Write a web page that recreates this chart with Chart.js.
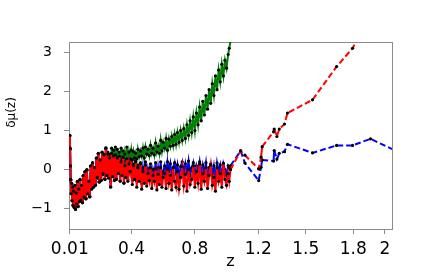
<!DOCTYPE html>
<html>
<head>
<meta charset="utf-8">
<style>
html,body{margin:0;padding:0;background:#ffffff;}
canvas{display:block;}
</style>
<script src="https://cdn.jsdelivr.net/npm/chart.js@4/dist/chart.umd.min.js"></script>
</head>
<body>
<canvas id="c" width="436" height="273"></canvas>
<script>
// ---- data ----
const zValues = [
  0.010,0.012,0.014,0.016,0.019,0.022,0.025,0.028,0.031,0.034,0.038,0.042,0.046,0.050,0.054,0.058,0.062,0.066,0.070,0.075,0.080,0.085,0.090,0.095,0.100,
  0.106,0.112,0.118,0.124,0.130,0.136,0.142,0.148,0.154,0.160,0.166,0.172,0.178,0.184,0.190,0.196,0.202,0.208,0.214,0.220,0.226,0.232,0.238,0.244,0.250,0.256,0.262,0.268,0.274,0.280,0.286,0.292,0.298,
  0.304,0.310,0.316,0.322,0.328,0.334,0.340,0.346,0.352,0.358,0.364,0.370,0.377,0.384,0.391,0.398,0.405,0.412,0.419,0.426,0.433,0.440,0.448,0.456,0.464,0.472,0.480,0.488,0.496,0.504,0.512,0.520,0.528,0.536,0.544,0.552,0.560,0.568,0.576,0.584,0.592,0.600,
  0.609,0.618,0.627,0.636,0.645,0.654,0.663,0.672,0.681,0.690,0.700,0.710,0.720,0.730,0.740,0.750,0.760,0.770,0.780,0.790,0.800,0.810,0.820,0.830,0.840,0.850,0.860,0.870,0.880,0.890,0.900,0.910,0.920,0.930,0.940,0.950,0.960,0.970,0.980,0.990,1.000,1.010,1.017,1.025,
  1.089,1.116,1.203,1.218,1.225,1.297,1.301,1.318,1.333,1.366,1.385,1.543,1.695,1.796,1.909,2.060
];
const redValues = [
  0.88,0.55,0.10,-0.25,-0.62,-0.35,-0.80,-0.45,-0.92,-0.55,-0.97,-0.40,-1.02,-0.60,-0.88,-0.30,-0.95,-0.50,-0.82,-0.25,-0.78,-0.40,-0.85,-0.15,-0.70,
  -0.05,-0.75,0.00,-0.62,-0.30,-0.70,0.10,-0.50,0.18,-0.45,0.05,-0.40,0.30,-0.20,0.42,-0.32,0.25,-0.28,0.45,-0.10,0.38,-0.25,0.55,-0.15,0.40,-0.22,0.30,-0.45,0.42,-0.18,0.35,-0.28,0.38,
  -0.25,0.30,-0.10,0.35,-0.30,0.20,-0.15,0.32,-0.35,0.10,-0.20,0.28,-0.30,0.15,-0.05,0.25,-0.38,0.10,-0.25,0.20,-0.45,0.05,-0.30,0.15,-0.50,-0.05,-0.35,0.12,-0.42,-0.10,-0.28,0.05,-0.48,-0.15,-0.30,0.02,-0.52,-0.12,-0.38,0.05,-0.45,-0.20,
  -0.10,-0.48,0.02,-0.35,-0.15,-0.52,0.05,-0.30,-0.45,-0.05,-0.50,-0.20,0.08,-0.42,-0.12,-0.55,0.00,-0.38,-0.25,0.10,-0.45,-0.05,-0.35,0.15,-0.50,-0.10,-0.30,0.05,-0.48,-0.15,0.12,-0.40,-0.20,-0.55,0.05,-0.30,-0.10,-0.45,0.17,-0.25,-0.40,-0.10,-0.30,0.00,
  0.48,0.37,0.02,0.32,0.59,0.97,1.04,0.85,1.04,1.17,1.45,1.79,2.64,3.11,3.95,5.00
];
const blueValues = [
  0.86,0.52,0.08,-0.27,-0.60,-0.37,-0.78,-0.47,-0.90,-0.57,-0.95,-0.42,-1.00,-0.62,-0.86,-0.32,-0.93,-0.52,-0.80,-0.27,-0.76,-0.42,-0.83,-0.17,-0.68,
  -0.07,-0.73,-0.02,-0.60,-0.32,-0.68,0.08,-0.48,0.16,-0.43,0.03,-0.38,0.28,-0.22,0.40,-0.30,0.23,-0.26,0.43,-0.12,0.36,-0.23,0.53,-0.13,0.38,-0.20,0.28,-0.43,0.40,-0.16,0.33,-0.26,0.36,
  -0.23,0.28,-0.08,0.33,-0.28,0.18,-0.13,0.30,-0.33,0.08,-0.18,0.26,-0.25,0.18,-0.02,0.22,-0.28,0.15,-0.15,0.22,-0.30,0.12,-0.20,0.18,-0.35,0.05,-0.18,0.20,-0.30,0.02,-0.12,0.15,-0.28,0.00,-0.15,0.18,-0.30,0.05,-0.20,0.20,-0.22,-0.05,
  0.10,-0.15,0.20,-0.05,0.15,-0.18,0.05,0.18,-0.10,0.12,-0.20,0.08,0.20,-0.12,0.15,-0.08,0.22,-0.15,0.05,0.18,-0.20,0.10,-0.05,0.20,-0.15,0.12,-0.08,0.18,-0.22,0.05,0.15,-0.12,0.10,-0.25,0.17,-0.05,0.12,-0.20,0.15,0.00,-0.15,0.10,0.05,0.10,
  0.48,0.17,-0.28,0.06,0.25,0.22,0.49,0.27,0.42,0.46,0.65,0.43,0.62,0.62,0.79,0.50
];
const greenValues = [
  0.87,0.53,0.09,-0.26,-0.61,-0.36,-0.79,-0.46,-0.91,-0.56,-0.96,-0.41,-1.01,-0.61,-0.87,-0.31,-0.94,-0.51,-0.81,-0.26,-0.77,-0.41,-0.84,-0.16,-0.69,
  -0.06,-0.74,-0.01,-0.61,-0.31,-0.69,0.09,-0.49,0.17,-0.44,0.04,-0.39,0.29,-0.21,0.41,-0.31,0.24,-0.27,0.44,-0.11,0.39,-0.24,0.56,-0.12,0.45,-0.18,0.40,-0.30,0.55,-0.08,0.50,-0.12,0.58,
  0.20,0.52,0.15,0.45,0.10,0.55,0.25,0.48,0.12,0.40,0.22,0.58,0.18,0.45,0.28,0.50,0.25,0.46,0.30,0.42,0.28,0.52,0.33,0.48,0.35,0.55,0.30,0.58,0.40,0.52,0.36,0.62,0.42,0.55,0.38,0.68,0.45,0.60,0.42,0.75,0.48,0.70,
  0.55,0.80,0.50,0.78,0.60,0.85,0.62,0.90,0.65,0.95,0.70,1.00,0.75,1.05,0.80,1.15,0.88,1.25,0.95,1.35,1.00,1.45,1.15,1.60,1.25,1.75,1.40,1.90,1.55,2.05,1.70,2.20,1.90,2.40,2.05,2.55,2.25,2.70,2.40,2.80,2.60,2.95,3.11,3.30,
  3.90,null,null,null,null,null,null,null,null,null,null,null,null,null,null,null
];
const xTicks = [0.01, 0.4, 0.8, 1.2, 1.5, 1.8, 2];
const xTickLabels = ['0.01', '0.4', '0.8', '1.2', '1.5', '1.8', '2'];
const yTicks = [-1, 0, 1, 2, 3];
const yTickLabels = ['\u22121', '0', '1', '2', '3'];
const xTitle = 'z';
const yTitle = '\u03B4\u03BC(z)';

// ---- chart ----
const FRAME = '#8c8c8c';
function series(vals, color) {
  return {
    data: zValues.map((z, i) => ({ x: z, y: vals[i] })),
    borderColor: color,
    backgroundColor: color,
    borderWidth: 2,
    borderDash: [6, 3],
    // where the samples are packed closely the overlapping dashes read as a solid band
    segment: {
      borderDash: ctx => (ctx.p1.parsed.x - ctx.p0.parsed.x < 0.012 ? [] : undefined)
    },
    pointRadius: 1.6,
    pointBackgroundColor: '#000000',
    pointBorderWidth: 0,
    pointHoverRadius: 0,
    tension: 0,
    spanGaps: false,
    fill: false
  };
}

const yTitlePlugin = {
  id: 'yTitleDraw',
  afterDraw(chart) {
    const a = chart.chartArea;
    const c = chart.ctx;
    c.save();
    c.translate(a.left - 57, a.top + (a.bottom - a.top) * 0.377);
    c.rotate(-Math.PI / 2);
    c.font = '12px "DejaVu Sans"';
    c.fillStyle = '#000000';
    c.textAlign = 'center';
    c.textBaseline = 'middle';
    c.fillText(yTitle, 0, 0);
    c.restore();
  }
};

new Chart(document.getElementById('c'), {
  type: 'line',
  data: { datasets: [series(redValues, '#ff0000'), series(blueValues, '#0000ff'), series(greenValues, '#008000')] },
  options: {
    responsive: false,
    animation: false,
    devicePixelRatio: 1,
    events: [],
    layout: { padding: { top: 42, right: 44, left: 0, bottom: 0 } },
    plugins: { legend: { display: false }, tooltip: { enabled: false } },
    scales: {
      x: {
        type: 'linear', position: 'bottom', min: 0.005, max: 2.045,
        afterBuildTicks: s => { s.ticks = xTicks.map(v => ({ value: v })); },
        afterFit: s => { s.height = 44; },
        grid: { drawOnChartArea: false, drawTicks: true, tickLength: 5, color: FRAME, lineWidth: 1 },
        border: { display: true, color: FRAME, width: 1 },
        ticks: { autoSkip: false, maxRotation: 0, padding: 5, color: '#000000',
          font: { family: '"DejaVu Sans"', size: 17 },
          callback: (v, i) => xTickLabels[i] },
        title: { display: true, text: xTitle, color: '#000000', font: { family: '"DejaVu Sans"', size: 16 }, padding: { top: 0, bottom: 2 } }
      },
      y: {
        type: 'linear', position: 'left', min: -1.52, max: 3.27,
        afterBuildTicks: s => { s.ticks = yTicks.map(v => ({ value: v })); },
        afterFit: s => { s.width = 69; },
        grid: { drawOnChartArea: false, drawTicks: true, tickLength: 5, color: FRAME, lineWidth: 1 },
        border: { display: true, color: FRAME, width: 1 },
        ticks: { autoSkip: false, padding: 12, color: '#000000',
          font: { family: '"DejaVu Sans"', size: 14 },
          callback: (v, i) => yTickLabels[i] }
      },
      xTop: {
        type: 'linear', position: 'top', min: 0.005, max: 2.045,
        afterFit: s => { s.height = 0; },
        grid: { display: false, drawTicks: false },
        border: { display: true, color: FRAME, width: 1 },
        ticks: { display: false }
      },
      yRight: {
        type: 'linear', position: 'right', min: -1.52, max: 3.27,
        afterFit: s => { s.width = 0; },
        grid: { display: false, drawTicks: false },
        border: { display: true, color: FRAME, width: 1 },
        ticks: { display: false }
      }
    }
  },
  plugins: [yTitlePlugin]
});
</script>
</body>
</html>
